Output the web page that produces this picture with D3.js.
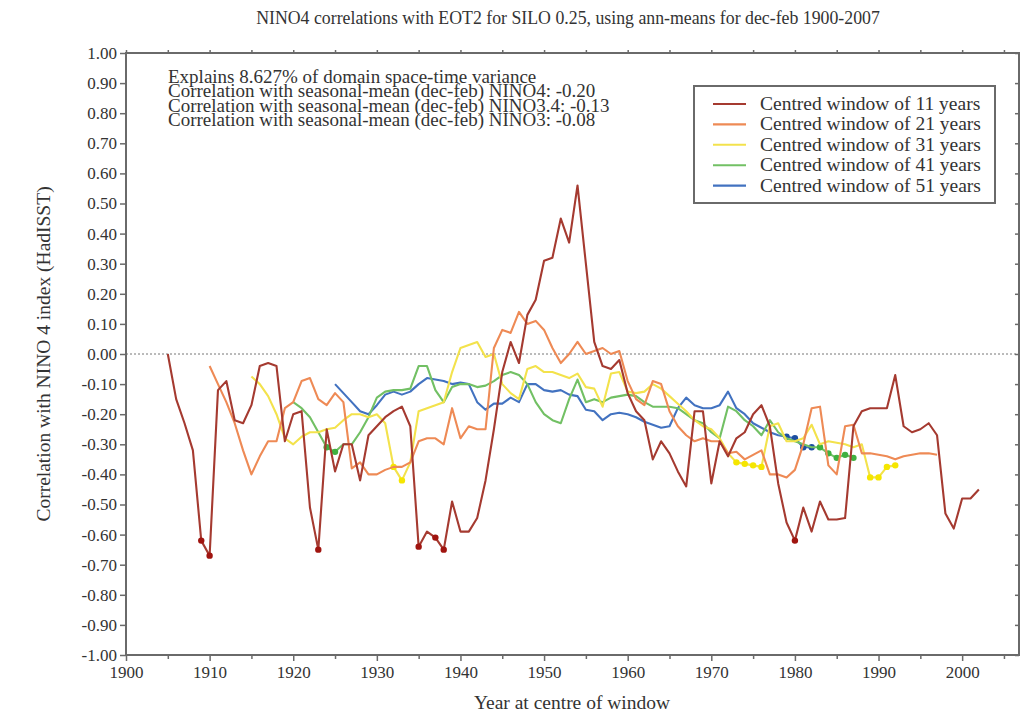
<!DOCTYPE html>
<html>
<head>
<meta charset="utf-8">
<script src="https://cdn.jsdelivr.net/npm/d3@7"></script>
<style>
  html, body { margin: 0; padding: 0; background: #fff; }
  svg { display: block; font-family: "Liberation Serif", "Times New Roman", serif; }
</style>
</head>
<body>
<svg id="chart" width="1026" height="714"></svg>
<script>
// Running correlations of EOT2 with NINO4, one series per window length.
// Each series is listed from its first centre year, one value per year.
const start11 = 1905;
const win11 = [
  0.00, -0.15, -0.23, -0.32, -0.62, -0.67, -0.12, -0.09, -0.22, -0.23,
  -0.17, -0.04, -0.03, -0.04, -0.29, -0.20, -0.19, -0.51, -0.65, -0.25,
  -0.39, -0.30, -0.30, -0.42, -0.27, -0.24, -0.21, -0.19, -0.175, -0.24,
  -0.64, -0.59, -0.61, -0.65, -0.49, -0.59, -0.59, -0.545, -0.42, -0.25,
  -0.06, 0.04, -0.03, 0.13, 0.18, 0.31, 0.32, 0.45, 0.37, 0.56,
  0.30, 0.04, -0.04, -0.05, -0.02, -0.13, -0.19, -0.22, -0.35, -0.29,
  -0.33, -0.39, -0.44, -0.19, -0.19, -0.43, -0.29, -0.34, -0.28, -0.26,
  -0.20, -0.17, -0.24, -0.43, -0.56, -0.62, -0.51, -0.59, -0.49, -0.55,
  -0.55, -0.545, -0.24, -0.19, -0.18, -0.18, -0.18, -0.07, -0.24, -0.26,
  -0.25, -0.23, -0.27, -0.53, -0.58, -0.48, -0.48, -0.45
];
const dots11 = [1909, 1910, 1923, 1935, 1937, 1938, 1980];

const start21 = 1910;
const win21 = [
  -0.04, -0.10, -0.16, -0.23, -0.32, -0.40, -0.34, -0.29, -0.29, -0.18,
  -0.16, -0.09, -0.08, -0.15, -0.17, -0.13, -0.16, -0.38, -0.36, -0.40,
  -0.40, -0.385, -0.375, -0.375, -0.36, -0.29, -0.28, -0.28, -0.30, -0.18,
  -0.28, -0.24, -0.25, -0.25, 0.02, 0.08, 0.07, 0.14, 0.10, 0.11,
  0.08, 0.02, -0.03, 0.00, 0.04, 0.00, 0.01, 0.02, 0.00, 0.01,
  -0.09, -0.15, -0.17, -0.09, -0.10, -0.19, -0.24, -0.27, -0.29, -0.28,
  -0.29, -0.29, -0.33, -0.325, -0.35, -0.335, -0.32, -0.40, -0.40, -0.41,
  -0.385, -0.30, -0.18, -0.175, -0.37, -0.40, -0.24, -0.235, -0.33, -0.33,
  -0.335, -0.34, -0.35, -0.34, -0.335, -0.33, -0.33, -0.335
];
const dots21 = [];

const start31 = 1915;
const win31 = [
  -0.075, -0.10, -0.14, -0.20, -0.28, -0.30, -0.275, -0.26, -0.26, -0.25,
  -0.245, -0.22, -0.20, -0.20, -0.21, -0.20, -0.23, -0.375, -0.42, -0.36,
  -0.19, -0.18, -0.17, -0.16, -0.06, 0.02, 0.03, 0.04, -0.01, 0.00,
  -0.10, -0.13, -0.15, -0.05, -0.04, -0.06, -0.06, -0.07, -0.08, -0.065,
  -0.11, -0.115, -0.175, -0.065, -0.06, -0.125, -0.13, -0.125, -0.10, -0.115,
  -0.14, -0.165, -0.19, -0.22, -0.24, -0.25, -0.28, -0.33, -0.36, -0.365,
  -0.37, -0.375, -0.24, -0.23, -0.29, -0.29, -0.28, -0.235, -0.30, -0.29,
  -0.295, -0.30, -0.31, -0.30, -0.41, -0.41, -0.375, -0.37
];
const dots31 = [1932, 1933, 1973, 1974, 1975, 1976, 1989, 1990, 1991, 1992];

const start41 = 1920;
const win41 = [
  -0.16, -0.18, -0.21, -0.26, -0.31, -0.325, -0.30, -0.30, -0.26, -0.21,
  -0.145, -0.125, -0.12, -0.12, -0.115, -0.04, -0.04, -0.12, -0.16, -0.11,
  -0.10, -0.10, -0.11, -0.105, -0.09, -0.07, -0.06, -0.07, -0.10, -0.16,
  -0.20, -0.22, -0.23, -0.15, -0.085, -0.16, -0.15, -0.16, -0.145, -0.14,
  -0.135, -0.14, -0.16, -0.175, -0.175, -0.175, -0.18, -0.20, -0.22, -0.23,
  -0.26, -0.28, -0.175, -0.19, -0.22, -0.24, -0.27, -0.22, -0.26, -0.28,
  -0.29, -0.30, -0.31, -0.31, -0.33, -0.345, -0.335, -0.345
];
const dots41 = [1924, 1925, 1983, 1984, 1985, 1986, 1987];

const start51 = 1925;
const win51 = [
  -0.10, -0.13, -0.16, -0.19, -0.20, -0.17, -0.135, -0.125, -0.135, -0.125,
  -0.10, -0.08, -0.085, -0.09, -0.10, -0.095, -0.10, -0.16, -0.185, -0.165,
  -0.165, -0.145, -0.16, -0.10, -0.10, -0.12, -0.125, -0.12, -0.135, -0.14,
  -0.185, -0.19, -0.22, -0.20, -0.195, -0.20, -0.21, -0.225, -0.235, -0.245,
  -0.24, -0.18, -0.145, -0.17, -0.18, -0.18, -0.17, -0.125, -0.18, -0.20,
  -0.23, -0.245, -0.26, -0.27, -0.275, -0.28, -0.31, -0.31
];
const dots51 = [1979, 1980, 1981, 1982];

const legendLabels = [
  "Centred window of 11 years",
  "Centred window of 21 years",
  "Centred window of 31 years",
  "Centred window of 41 years",
  "Centred window of 51 years"
];
const lineColors = ["#a53a30", "#ee8a55", "#f3e24c", "#72c064", "#4272c0"];
const dotColors = ["#a0140f", "#e8601c", "#f5e600", "#3fb040", "#1c4ea0"];

const notes = [
  "Explains 8.627% of domain space-time variance",
  "Correlation with seasonal-mean (dec-feb) NINO4: -0.20",
  "Correlation with seasonal-mean (dec-feb) NINO3.4: -0.13",
  "Correlation with seasonal-mean (dec-feb) NINO3: -0.08"
];

const titleText = "NINO4 correlations with EOT2 for SILO 0.25, using ann-means for dec-feb 1900-2007";
const xTitle = "Year at centre of window";
const yTitle = "Correlation with NINO 4 index (HadISST)";

const yTicks = d3.range(-10, 11).map(i => i / 10);
const xTicks = d3.range(1900, 2001, 10);
const xMinor = d3.range(1905, 2006, 10);

// ---------------------------------------------------------------------
const svg = d3.select("#chart");
const plotLeft = 126, plotRight = 1019, plotTop = 53, plotBottom = 655;

const x = d3.scaleLinear().domain([1900, 2006.8]).range([plotLeft, plotRight]);
const y = d3.scaleLinear().domain([-1, 1]).range([plotBottom, plotTop]);

const fmt = v => (Math.abs(v) < 1e-9 ? "0.00" : (v < 0 ? "-" : "") + Math.abs(v).toFixed(2));
const axisColor = "#6a6a6a";
const textColor = "#333";

// Title
svg.append("text")
  .attr("x", 568).attr("y", 24)
  .attr("text-anchor", "middle")
  .attr("font-size", 17.8).attr("fill", textColor)
  .text(titleText);

// Zero reference line
svg.append("line")
  .attr("x1", plotLeft).attr("x2", plotRight)
  .attr("y1", y(0)).attr("y2", y(0))
  .attr("stroke", "#777").attr("stroke-width", 1)
  .attr("stroke-dasharray", "2,2");

// Series
const series = [
  { start: start11, values: win11, dots: dots11 },
  { start: start21, values: win21, dots: dots21 },
  { start: start31, values: win31, dots: dots31 },
  { start: start41, values: win41, dots: dots41 },
  { start: start51, values: win51, dots: dots51 }
];

const line = d3.line().x(d => x(d.year)).y(d => y(d.value));
const plotOrder = [4, 3, 2, 1, 0];

plotOrder.forEach(k => {
  const s = series[k];
  const pts = s.values.map((v, i) => ({ year: s.start + i, value: v }));
  svg.append("path")
    .datum(pts)
    .attr("d", line)
    .attr("fill", "none")
    .attr("stroke", lineColors[k])
    .attr("stroke-width", 2.1)
    .attr("stroke-linejoin", "round");
  const marked = pts.filter(p => s.dots.includes(p.year));
  svg.append("g").selectAll("circle")
    .data(marked)
    .join("circle")
    .attr("cx", d => x(d.year))
    .attr("cy", d => y(d.value))
    .attr("r", 3.2)
    .attr("fill", dotColors[k]);
});

// Axes
const gLeft = svg.append("g")
  .attr("transform", `translate(${plotLeft},0)`)
  .call(d3.axisLeft(y).tickValues(yTicks).tickFormat(fmt).tickSize(6).tickPadding(3));
const gRight = svg.append("g")
  .attr("transform", `translate(${plotRight},0)`)
  .call(d3.axisLeft(y).tickValues(yTicks).tickFormat("").tickSize(4));

const gBottom = svg.append("g")
  .attr("transform", `translate(0,${plotBottom})`)
  .call(d3.axisBottom(x).tickValues(xTicks).tickFormat(d3.format("d")).tickSize(6).tickPadding(5));
const gBottomMinor = svg.append("g")
  .attr("transform", `translate(0,${plotBottom})`)
  .call(d3.axisBottom(x).tickValues(xMinor).tickFormat("").tickSize(4));
const gTop = svg.append("g")
  .attr("transform", `translate(0,${plotTop})`)
  .call(d3.axisTop(x).tickValues(xTicks.concat(xMinor)).tickFormat("").tickSize(3));

[gLeft, gRight, gBottom, gBottomMinor, gTop].forEach(g => {
  g.select(".domain").remove();
  g.selectAll(".tick line").attr("stroke", axisColor).attr("stroke-width", 1.5);
  g.selectAll("text")
    .attr("font-family", "'Liberation Serif', 'Times New Roman', serif")
    .attr("font-size", 17).attr("fill", textColor);
});

// Plot frame
svg.append("rect")
  .attr("x", plotLeft).attr("y", plotTop)
  .attr("width", plotRight - plotLeft).attr("height", plotBottom - plotTop)
  .attr("fill", "none").attr("stroke", axisColor).attr("stroke-width", 2);

// Axis titles
svg.append("text")
  .attr("x", 572).attr("y", 709)
  .attr("text-anchor", "middle")
  .attr("font-size", 19.5).attr("fill", textColor)
  .text(xTitle);
svg.append("text")
  .attr("transform", `translate(50,${y(0)}) rotate(-90)`)
  .attr("text-anchor", "middle")
  .attr("font-size", 19.5).attr("fill", textColor)
  .text(yTitle);

// Annotation block
svg.append("g").selectAll("text")
  .data(notes)
  .join("text")
  .attr("x", 168)
  .attr("y", (d, i) => 83 + i * 14.4)
  .attr("font-size", 19).attr("fill", textColor)
  .text(d => d);

// Legend
const lg = svg.append("g");
lg.append("rect")
  .attr("x", 694).attr("y", 86).attr("width", 301).attr("height", 117)
  .attr("fill", "#fff").attr("stroke", axisColor).attr("stroke-width", 2);
legendLabels.forEach((lab, i) => {
  const ly = 104 + i * 20.4;
  lg.append("line")
    .attr("x1", 713).attr("x2", 746).attr("y1", ly).attr("y2", ly)
    .attr("stroke", lineColors[i]).attr("stroke-width", 2.1);
  lg.append("text")
    .attr("x", 760).attr("y", ly + 6)
    .attr("font-size", 19.5).attr("fill", textColor)
    .text(lab);
});
</script>
</body>
</html>
